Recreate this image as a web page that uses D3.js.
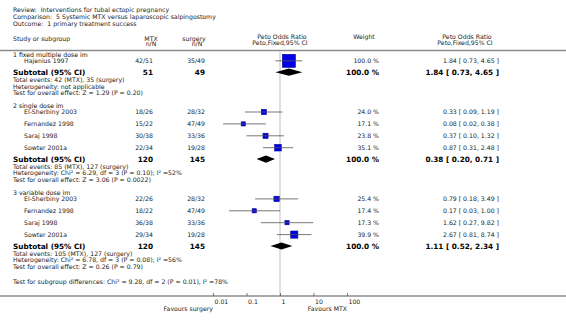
<!DOCTYPE html>
<html><head><meta charset="utf-8">
<script src="https://cdn.jsdelivr.net/npm/d3@7"></script>
<style>body{margin:0;background:#fff}svg{display:block}text{font-family:"DejaVu Sans",Verdana,sans-serif}</style>
</head><body><svg id="c" width="566" height="321"></svg>
<script>
const titleLines = ["Review:  Interventions for tubal ectopic pregnancy",
  "Comparison:  5 Systemic MTX versus laparoscopic salpingostomy",
  "Outcome:  1 primary treatment success"];
const groups = ["1 fixed multiple dose im", "2 single dose im", "3 variable dose im"];
const studyGroup = [0, 1, 1, 1, 1, 2, 2, 2, 2];
const studies = ["Hajenius 1997", "El-Sherbiny 2003", "Fernandez 1998", "Saraj 1998", "Sowter 2001a",
  "El-Sherbiny 2003", "Fernandez 1998", "Saraj 1998", "Sowter 2001a"];
const mtx = ["42/51", "18/26", "15/22", "30/38", "22/34", "22/26", "18/22", "36/38", "29/34"];
const surgery = ["35/49", "28/32", "47/49", "33/36", "19/28", "28/32", "47/49", "33/36", "19/28"];
const weight = [100.0, 24.0, 17.1, 23.8, 35.1, 25.4, 17.4, 17.3, 39.9];
const orv = [1.84, 0.33, 0.08, 0.37, 0.87, 0.79, 0.17, 1.62, 2.67];
const lo = [0.73, 0.09, 0.02, 0.10, 0.31, 0.18, 0.03, 0.27, 0.81];
const hi = [4.65, 1.19, 0.38, 1.32, 2.48, 3.49, 1.00, 9.82, 8.74];
const subMtx = [51, 120, 120];
const subSurg = [49, 145, 145];
const subOr = [1.84, 0.38, 1.11];
const subLo = [0.73, 0.20, 0.52];
const subHi = [4.65, 0.71, 2.34];
const subEvents = ["Total events: 42 (MTX), 35 (surgery)", "Total events: 85 (MTX), 127 (surgery)", "Total events: 105 (MTX), 127 (surgery)"];
const subHet = ["Heterogeneity: not applicable", "Heterogeneity: Chi\u00b2 = 6.29, df = 3 (P = 0.10); I\u00b2 =52%", "Heterogeneity: Chi\u00b2 = 6.78, df = 3 (P = 0.08); I\u00b2 =56%"];
const subTest = ["Test for overall effect: Z = 1.29 (P = 0.20)", "Test for overall effect: Z = 3.06 (P = 0.0022)", "Test for overall effect: Z = 0.26 (P = 0.79)"];
const subgroupTest = "Test for subgroup differences: Chi\u00b2 = 9.28, df = 2 (P = 0.01), I\u00b2 =78%";
const tickValues = [0.01, 0.1, 1, 10, 100];
const tickLabels = ["0.01", "0.1", "1", "10", "100"];
const favours = ["Favours surgery", "Favours MTX"];

const svg = d3.select("#c");
const FS = 6.2, FB = 7.3;
const txt = "#222";
const x = d3.scaleLog().domain([0.01, 100]).range([213, 347]);
const sz = d3.scalePow().exponent(0.65).domain([0, 100]).range([0, 13]);
const f2 = v => v.toFixed(2);

svg.selectAll("text.title").data(titleLines).join("text")
  .attr("x", 13).attr("y", (d, i) => 10 + i * 6.8).attr("dy", "0.35em")
  .attr("font-size", FS).attr("fill", txt).style("white-space", "pre").text(d => d);

function t(xp, yp, s, opt = {}) {
  return svg.append("text").attr("x", xp).attr("y", yp).attr("dy", "0.35em")
    .attr("font-size", opt.size || FS).attr("font-weight", opt.bold ? "bold" : null)
    .attr("text-anchor", opt.anchor || "start").attr("fill", opt.fill || txt).text(s);
}
t(13, 38.8, "Study or subgroup");
t(151, 38.5, "MTX", {anchor: "middle"}); t(151, 44.3, "n/N", {anchor: "middle"});
t(194, 38.5, "surgery", {anchor: "middle"}); t(197, 44.3, "n/N", {anchor: "middle"});
t(282, 37.3, "Peto Odds Ratio", {anchor: "middle"}); t(280, 43.3, "Peto,Fixed,95% CI", {anchor: "middle"});
t(364, 37.3, "Weight", {anchor: "middle"});
t(467, 37.3, "Peto Odds Ratio", {anchor: "middle"}); t(465, 43.3, "Peto,Fixed,95% CI", {anchor: "middle"});

let y = 54.5;
const rows = [];
groups.forEach((g, gi) => {
  rows.push({type: "group", gi, y}); y += 6.3;
  studies.forEach((s, i) => { if (studyGroup[i] === gi) { rows.push({type: "study", i, y}); y += 11.9; } });
  y -= 0.5;
  rows.push({type: "sub", gi, y}); y += 7.8;
  rows.push({type: "ev", gi, y}); y += 6.4;
  rows.push({type: "het", gi, y}); y += 6.4;
  rows.push({type: "test", gi, y}); y += 12.9;
});
const yDiff = rows[rows.length - 1].y + 15.5;
const yAxis = 296;

svg.append("line").attr("x1", 0).attr("x2", 566).attr("y1", 50.5).attr("y2", 50.5).attr("stroke", "#8c8c8c").attr("stroke-width", 1.5);
svg.append("line").attr("x1", x(1)).attr("x2", x(1)).attr("y1", 51).attr("y2", yAxis).attr("stroke", "#d4d4d4").attr("stroke-width", 1.5);

rows.forEach(r => {
  if (r.type === "group") t(13, r.y, groups[r.gi], {fill: "#111"});
  else if (r.type === "study") {
    const i = r.i;
    t(24, r.y, studies[i]);
    t(153, r.y, mtx[i], {anchor: "end"});
    t(205, r.y, surgery[i], {anchor: "end"});
    t(379, r.y, weight[i].toFixed(1) + " %", {anchor: "end"});
    t(499, r.y, `${f2(orv[i])} [ ${f2(lo[i])}, ${f2(hi[i])} ]`, {anchor: "end"});
    const s = sz(weight[i]);
    svg.append("rect").attr("x", x(orv[i]) - s / 2).attr("y", r.y - s / 2).attr("width", s).attr("height", s)
      .attr("fill", "#0000e6").attr("stroke", "#00008b").attr("stroke-width", 0.6);
    svg.append("line").attr("x1", x(lo[i])).attr("x2", x(hi[i])).attr("y1", r.y).attr("y2", r.y)
      .attr("stroke", "#555").attr("stroke-width", 0.8);
  } else if (r.type === "sub") {
    const g = r.gi;
    t(13, r.y, "Subtotal (95% CI)", {bold: true, size: FB, fill: "#000"});
    t(153, r.y, subMtx[g], {bold: true, size: FB, anchor: "end", fill: "#000"});
    t(205, r.y, subSurg[g], {bold: true, size: FB, anchor: "end", fill: "#000"});
    t(379, r.y, "100.0 %", {bold: true, size: FB, anchor: "end", fill: "#000"});
    t(499, r.y, `${f2(subOr[g])} [ ${f2(subLo[g])}, ${f2(subHi[g])} ]`, {bold: true, size: FB, anchor: "end", fill: "#000"});
    const h = 3.6;
    const pts = [[x(subLo[g]), r.y], [x(subOr[g]), r.y - h], [x(subHi[g]), r.y], [x(subOr[g]), r.y + h]];
    svg.append("path").attr("d", d3.line()(pts) + "Z").attr("fill", "#000");
  } else if (r.type === "ev") t(13, r.y, subEvents[r.gi]);
  else if (r.type === "het") t(13, r.y, subHet[r.gi]);
  else if (r.type === "test") t(13, r.y, subTest[r.gi]);
});
t(13, yDiff, subgroupTest);

svg.append("line").attr("x1", 0).attr("x2", 566).attr("y1", yAxis).attr("y2", yAxis).attr("stroke", "#8c8c8c").attr("stroke-width", 1.5);
const ax = svg.append("g").attr("transform", `translate(0,${yAxis})`)
  .call(d3.axisBottom(x).tickValues(tickValues).tickFormat((d, i) => tickLabels[i]).tickSizeInner(-3).tickSizeOuter(0));
ax.select(".domain").remove();
ax.selectAll(".tick line").attr("stroke", "#555").attr("stroke-width", 0.8);
ax.selectAll(".tick text").attr("font-family", "DejaVu Sans").attr("font-size", FS).attr("fill", txt)
  .attr("text-anchor", "start").attr("x", 1).attr("y", 6).attr("dy", "0.35em");
t(x(0.01), yAxis + 13, favours[0], {anchor: "end"});
t(x(100), yAxis + 13, favours[1], {anchor: "end"});
</script></body></html>
